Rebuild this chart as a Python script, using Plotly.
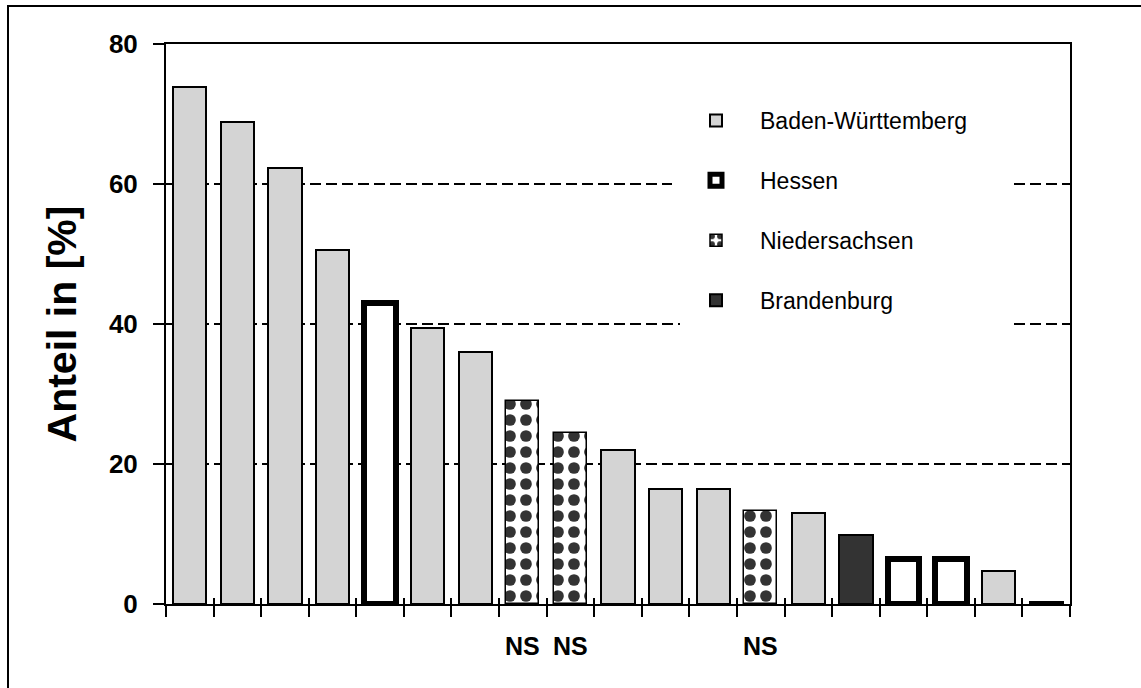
import plotly.graph_objects as go

# ---- data ----
series_names = ["Baden-Württemberg", "Hessen", "Niedersachsen", "Brandenburg"]
bw_x = [0, 1, 2, 3, 5, 6, 9, 10, 11, 13, 17, 18]
bw_y = [73.8, 68.9, 62.3, 50.6, 39.4, 36.0, 22.0, 16.5, 16.5, 13.0, 4.7, 0.3]
he_x = [4, 15, 16]
he_y = [43.0, 6.4, 6.4]
ns_x = [7, 8, 12]
ns_y = [29.0, 24.5, 13.3]
bb_x = [14]
bb_y = [9.9]
n_categories = 19
ns_label_x = [7, 8, 12]
ns_label_text = ["NS", "NS", "NS"]
y_ticks = [0, 20, 40, 60, 80]

W, H = 1141, 688
L, R, T, B = 166, 1070, 44, 604  # plot area pixels


def px_x(p):
    return (p - L) / (R - L)


def px_y(p):
    return (B - p) / (B - T)


bold_font = "Liberation Sans, Arial, sans-serif"
reg_font = "Liberation Sans, Arial, sans-serif"

fig = go.Figure()
fig.add_trace(go.Bar(
    x=bw_x, y=bw_y, name=series_names[0], legendgroup="a", width=0.7,
    marker=dict(color="#d4d4d4", line=dict(color="black", width=2)),
))
fig.add_trace(go.Bar(
    x=he_x, y=he_y, name=series_names[1], legendgroup="b", width=0.66,
    marker=dict(color="white", line=dict(color="black", width=6)),
))
fig.add_trace(go.Bar(
    x=ns_x, y=ns_y, name=series_names[2], legendgroup="c", width=0.7,
    marker=dict(color="white", line=dict(color="black", width=1.5),
                pattern=dict(shape=".", fgcolor="#333333", bgcolor="white", fgopacity=1,
                             size=16, solidity=0.42)),
))
fig.add_trace(go.Bar(
    x=bb_x, y=bb_y, name=series_names[3], legendgroup="d", width=0.7,
    marker=dict(color="#333333", line=dict(color="black", width=2)),
))
# helper trace so the overlaid tick axis is drawn
fig.add_trace(go.Scatter(x=[-1], y=[-10], xaxis="x2", mode="markers",
                         showlegend=False, hoverinfo="skip", marker=dict(opacity=0)))

tickvals_x = [i - 0.5 for i in range(n_categories + 1)]

for xv, txt in zip(ns_label_x, ns_label_text):
    fig.add_annotation(x=xv, y=px_y(646), xref="x", yref="paper", text="<b>%s</b>" % txt,
                       showarrow=False, font=dict(family=bold_font, size=25, color="black"),
                       xanchor="center", yanchor="middle")

# white area behind the legend (hides the gridlines there)
fig.add_shape(type="rect", xref="paper", yref="paper",
              x0=px_x(680), x1=px_x(1012), y0=px_y(336), y1=px_y(96),
              line=dict(width=0), fillcolor="white", layer="above")

# outer frame
fig.add_shape(type="rect", xref="paper", yref="paper",
              x0=px_x(8), x1=px_x(1146), y0=px_y(694), y1=px_y(6),
              line=dict(color="black", width=2), fillcolor="rgba(0,0,0,0)", layer="above")

fig.update_layout(
    width=W, height=H,
    margin=dict(l=L, r=W - R, t=T, b=H - B, autoexpand=False),
    paper_bgcolor="white", plot_bgcolor="white",
    barmode="overlay", bargap=0,
    showlegend=True,
    legend=dict(x=px_x(672), y=px_y(99), xanchor="left", yanchor="top",
                bgcolor="white", borderwidth=0, itemwidth=78, tracegroupgap=27,
                font=dict(family=reg_font, size=23, color="black"),
                itemclick=False, itemdoubleclick=False),
    xaxis=dict(range=[-0.5, n_categories - 0.5], tickvals=tickvals_x, showticklabels=False,
               ticks="outside", ticklen=11, tickwidth=2, tickcolor="black",
               showline=True, linewidth=2, linecolor="black", mirror=True,
               showgrid=False, zeroline=False),
    xaxis2=dict(range=[-0.5, n_categories - 0.5], tickvals=tickvals_x, showticklabels=False,
                overlaying="x", anchor="y", side="bottom",
                ticks="inside", ticklen=6, tickwidth=2, tickcolor="black",
                showline=False, showgrid=False, zeroline=False),
    yaxis=dict(range=[0, 80], tickvals=y_ticks, ticks="outside", ticklen=11, tickwidth=2,
               tickcolor="black", showline=True, linewidth=2, linecolor="black", mirror=True,
               showgrid=True, gridcolor="black", gridwidth=2, griddash="11px,5px",
               zeroline=False, ticklabelstandoff=10,
               tickfont=dict(family=bold_font, size=26, color="black", weight="bold"),
               title=dict(text="<b>Anteil in [%]</b>", standoff=20,
                          font=dict(family=bold_font, size=41, color="black"))),
)

fig.write_html("out.html", config={"displayModeBar": False},
               post_script="document.body.style.margin='0';")
